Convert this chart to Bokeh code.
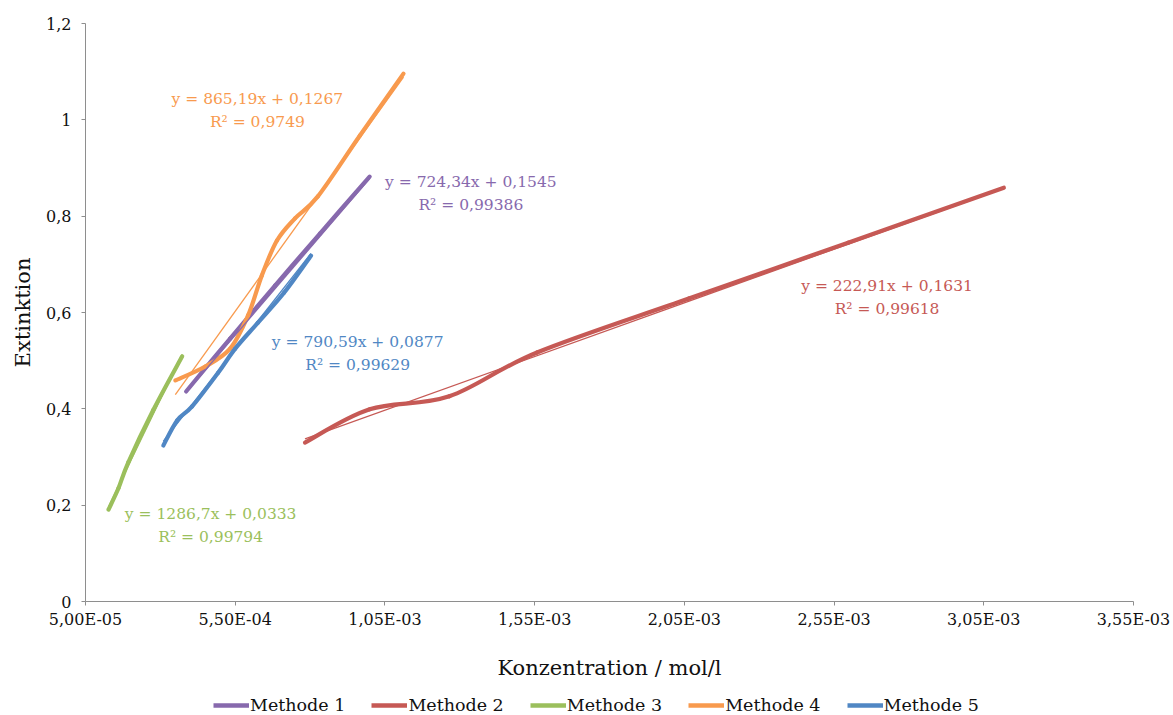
import numpy as np
from bokeh.plotting import figure
from bokeh.layouts import column
from bokeh.models import Range1d, FixedTicker, Legend, LegendItem
from bokeh.embed import file_html
from bokeh.resources import INLINE
from bokeh.core.properties import value

# ---------------- data ----------------
series_names = ["Methode 1", "Methode 2", "Methode 3", "Methode 4", "Methode 5"]
series_colors = ["#8769AD", "#C65955", "#9BBF5C", "#F89A4E", "#5087C4"]

m1_x = [3.86e-4, 5.33e-4, 6.83e-4, 8.33e-4, 9.99e-4]
m1_y = [0.436, 0.546, 0.656, 0.764, 0.882]

m2_x = [7.83e-4, 9.99e-4, 1.265e-3, 1.558e-3, 2.065e-3, 2.597e-3, 3.117e-3]
m2_y = [0.330, 0.399, 0.426, 0.517, 0.629, 0.745, 0.859]

m3_x = [1.27e-4, 1.60e-4, 1.93e-4, 2.76e-4, 3.73e-4]
m3_y = [0.191, 0.235, 0.289, 0.397, 0.509]

m4_x = [3.50e-4, 4.50e-4, 5.33e-4, 5.93e-4, 6.39e-4, 6.89e-4, 7.49e-4, 8.26e-4, 9.66e-4, 1.112e-3]
m4_y = [0.459, 0.488, 0.525, 0.594, 0.677, 0.749, 0.795, 0.841, 0.967, 1.096]

m5_x = [3.10e-4, 3.56e-4, 4.06e-4, 4.93e-4, 5.50e-4, 6.26e-4, 7.13e-4, 8.03e-4]
m5_y = [0.324, 0.376, 0.405, 0.475, 0.525, 0.579, 0.641, 0.718]

# linear trendlines (from the chart's labels)
slopes = [724.34, 222.91, 1286.7, 865.19, 790.59]
intercepts = [0.1545, 0.1631, 0.0333, 0.1267, 0.0877]
r_squared = [0.99386, 0.99618, 0.99794, 0.9749, 0.99629]

x_ticks = [5e-5, 5.5e-4, 1.05e-3, 1.55e-3, 2.05e-3, 2.55e-3, 3.05e-3, 3.55e-3]
x_tick_labels = ["5,00E-05", "5,50E-04", "1,05E-03", "1,55E-03", "2,05E-03",
                 "2,55E-03", "3,05E-03", "3,55E-03"]
y_ticks = [0.0, 0.2, 0.4, 0.6, 0.8, 1.0, 1.2]
y_tick_labels = ["0", "0,2", "0,4", "0,6", "0,8", "1", "1,2"]

# label anchor positions (data space) for the trendline equations
label_x = [1.337e-3, 2.727e-3, 4.68e-4, 6.24e-4, 9.59e-4]
label_y = [0.870, 0.656, 0.181, 1.044, 0.538]

series_x = [m1_x, m2_x, m3_x, m4_x, m5_x]
series_y = [m1_y, m2_y, m3_y, m4_y, m5_y]

FONT = "DejaVu Serif"


def de(v):
    return f"{v:g}".replace(".", ",")


def smooth_segments(xs, ys):
    """Bezier control points (Catmull-Rom style smoothing, like Excel's smoothed lines)."""
    P = np.column_stack([xs, ys]).astype(float)
    n = len(P)
    out = {k: [] for k in ["x0", "y0", "x1", "y1", "cx0", "cy0", "cx1", "cy1"]}
    for i in range(n - 1):
        pp = P[max(i - 1, 0)]
        pn = P[min(i + 2, n - 1)]
        c0 = P[i] + (P[i + 1] - pp) / 6.0
        c1 = P[i + 1] - (pn - P[i]) / 6.0
        out["x0"].append(P[i][0]); out["y0"].append(P[i][1])
        out["x1"].append(P[i + 1][0]); out["y1"].append(P[i + 1][1])
        out["cx0"].append(c0[0]); out["cy0"].append(c0[1])
        out["cx1"].append(c1[0]); out["cy1"].append(c1[1])
    return out


p = figure(width=1173, height=684, output_backend="svg", toolbar_location=None,
           x_range=Range1d(x_ticks[0], x_ticks[-1]), y_range=Range1d(y_ticks[0], y_ticks[-1]),
           min_border_left=85, min_border_right=40, min_border_top=23, min_border_bottom=83)
p.outline_line_color = None
p.xgrid.visible = False
p.ygrid.visible = False
p.background_fill_color = "white"
p.border_fill_color = "white"

for name, col, xs, ys in zip(series_names, series_colors, series_x, series_y):
    seg = smooth_segments(xs, ys)
    p.bezier(line_color=col, line_width=4.2, line_cap="round", **seg)

# trendlines on top
for col, xs, a, b in zip(series_colors, series_x, slopes, intercepts):
    tx = np.array([xs[0], xs[-1]])
    p.line(x=tx, y=a * tx + b, line_color=col, line_width=1.3)

eq_text = [f"y = {de(a)}x + {de(b)}" for a, b in zip(slopes, intercepts)]
r2_text = [f"R² = {de(r)}" for r in r_squared]
p.text(x=label_x, y=label_y, text=eq_text, text_color=series_colors,
       text_font=value(FONT), text_font_size="15.5px", text_align="center", text_baseline="middle")
p.text(x=label_x, y=label_y, text=r2_text, text_color=series_colors, y_offset=23,
       text_font=value(FONT), text_font_size="15.5px", text_align="center", text_baseline="middle")

# axes
for ax in (p.xaxis[0], p.yaxis[0]):
    ax.axis_line_color = "#8e8e8e"
    ax.major_tick_line_color = "#8e8e8e"
    ax.major_tick_out = 4
    ax.major_tick_in = 0
    ax.minor_tick_line_color = None
    ax.major_label_text_font = FONT
    ax.major_label_text_font_size = "16px"
    ax.major_label_text_color = "#111111"
    ax.axis_label_text_font = FONT
    ax.axis_label_text_font_size = "21px"
    ax.axis_label_text_font_style = "normal"
    ax.axis_label_text_color = "#111111"

p.xaxis[0].ticker = FixedTicker(ticks=x_ticks)
p.xaxis[0].major_label_overrides = dict(zip(x_ticks, x_tick_labels))
p.xaxis[0].axis_label = "Konzentration / mol/l"
p.xaxis[0].major_label_standoff = 4
p.xaxis[0].axis_label_standoff = 24

p.yaxis[0].ticker = FixedTicker(ticks=y_ticks)
p.yaxis[0].major_label_overrides = dict(zip(y_ticks, y_tick_labels))
p.yaxis[0].axis_label = "Extinktion"
p.yaxis[0].major_label_standoff = 10
p.yaxis[0].axis_label_standoff = 8

# legend strip below the chart
lg = figure(width=1173, height=31, output_backend="svg", toolbar_location=None,
            x_range=Range1d(0, 1), y_range=Range1d(0, 1),
            x_axis_type=None, y_axis_type=None,
            min_border_left=0, min_border_right=0, min_border_top=0, min_border_bottom=0)
lg.outline_line_color = None
lg.background_fill_color = "white"
lg.border_fill_color = "white"
legend_items = []
for name, col, xs, ys in zip(series_names, series_colors, series_x, series_y):
    proxy = lg.line(x=xs[:1], y=ys[:1], line_color=col, line_width=4.5)
    legend_items.append(LegendItem(label=name, renderers=[proxy]))

legend = Legend(items=legend_items, orientation="horizontal", location=(128, 0),
                border_line_color=None, background_fill_alpha=0,
                glyph_width=36, glyph_height=20, label_standoff=1, spacing=26,
                padding=0, margin=0,
                label_text_font=FONT, label_text_font_size="17.5px", label_text_color="#111111")
lg.add_layout(legend, "center")

layout = column(p, lg, spacing=0)
open("out.html", "w").write(file_html(layout, INLINE))
